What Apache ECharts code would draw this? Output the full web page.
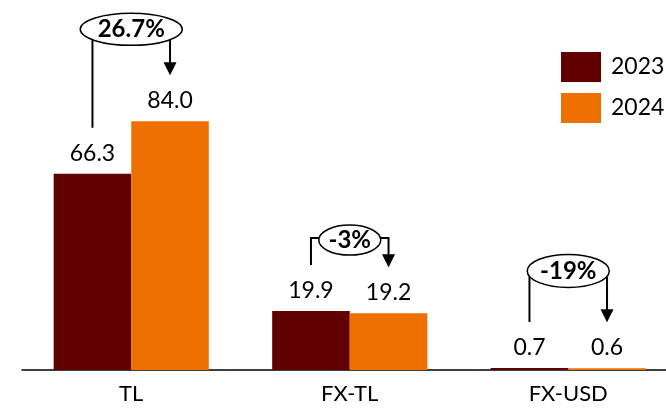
<!DOCTYPE html>
<html>
<head>
<meta charset="utf-8">
<script src="https://cdn.jsdelivr.net/npm/echarts@6/dist/echarts.min.js"></script>
<style>
  html, body { margin: 0; padding: 0; background: #fff; }
  #main { width: 666px; height: 411px; }
</style>
</head>
<body>
<div id="main"></div>
<script>
// chart data
const categories = ['TL', 'FX-TL', 'FX-USD'];
const seriesNames = ['2023', '2024'];
const values2023 = [66.3, 19.9, 0.7];
const values2024 = [84.0, 19.2, 0.6];
const changeLabels = ['26.7%', '-3%', '-19%'];

const colors = ['#600000', '#ee7000'];
const FONT = 'Lato, "Noto Sans", sans-serif';

const chart = echarts.init(document.getElementById('main'));

const barLabel = {
    show: true,
    position: 'top',
    distance: 9,
    fontFamily: FONT,
    fontSize: 23,
    color: '#000',
    formatter: p => p.value.toFixed(1)
};

chart.setOption({
    animation: false,
    color: colors,
    legend: {
        orient: 'vertical',
        left: 556,
        top: 47,
        itemWidth: 40,
        itemHeight: 30,
        itemGap: 11,
        icon: 'rect',
        data: seriesNames,
        textStyle: { fontFamily: FONT, fontSize: 23, color: '#000', padding: [0, 0, 0, 5] }
    },
    grid: { left: 22, width: 655.5, top: 0, bottom: 41, containLabel: false, outerBoundsMode: 'none' },
    xAxis: {
        type: 'category',
        data: categories,
        axisTick: { show: false },
        axisLine: { lineStyle: { color: '#000', width: 1.5 } },
        axisLabel: { fontFamily: FONT, fontSize: 22, color: '#000', margin: 13 }
    },
    yAxis: {
        type: 'value',
        min: 0,
        max: 125,
        show: false,
        splitLine: { show: false }
    },
    series: [
        { name: seriesNames[0], type: 'bar', data: values2023, barWidth: '35.5%', barGap: '0%', label: barLabel },
        { name: seriesNames[1], type: 'bar', data: values2024, barWidth: '35.5%', barGap: '0%', label: barLabel }
    ]
});

// change annotations: ellipse + connector + arrow, placed from the axes
// lift = how far the ellipse centre sits above the taller bar
const annoLayout = [
    { lift: 92, rx: 51, ry: 16 },
    { lift: 71, rx: 31, ry: 15 },
    { lift: 97, rx: 41, ry: 16.5 }
];

function buildAnnotations() {
    const c0 = chart.convertToPixel({ xAxisIndex: 0 }, 0);
    const c1 = chart.convertToPixel({ xAxisIndex: 0 }, 1);
    const bw = (c1 - c0) * 0.355;
    const els = [];
    const line = { stroke: '#000', lineWidth: 2 };

    categories.forEach((cat, i) => {
        const cx = chart.convertToPixel({ xAxisIndex: 0 }, i);
        const xL = cx - bw / 2;
        const xR = cx + bw / 2;
        const yTopL = chart.convertToPixel({ yAxisIndex: 0 }, values2023[i]);
        const yTopR = chart.convertToPixel({ yAxisIndex: 0 }, values2024[i]);
        const lay = annoLayout[i];
        const cy = Math.min(yTopL, yTopR) - lay.lift;
        const endL = yTopL - 46;
        const endR = yTopR - 46;

        const dx = bw / 2;
        if (dx < lay.rx) {
            const dy = lay.ry * Math.sqrt(1 - (dx / lay.rx) ** 2);
            els.push({ type: 'polyline', shape: { points: [[xL, cy + dy], [xL, endL]] }, style: line });
            els.push({ type: 'polyline', shape: { points: [[xR, cy + dy], [xR, endR - 12]] }, style: line });
        } else {
            const hy = cy - 2;
            els.push({ type: 'polyline', shape: { points: [[xL, endL], [xL, hy], [cx - lay.rx, hy]] }, style: line });
            els.push({ type: 'polyline', shape: { points: [[cx + lay.rx, hy], [xR, hy], [xR, endR - 12]] }, style: line });
        }
        // arrow head
        els.push({
            type: 'polygon',
            shape: { points: [[xR - 6.5, endR - 13], [xR + 6.5, endR - 13], [xR, endR]] },
            style: { fill: '#000' }
        });
        els.push({
            type: 'ellipse',
            shape: { cx: cx, cy: cy, rx: lay.rx, ry: lay.ry },
            style: { fill: '#fff', stroke: '#000', lineWidth: 1.5 },
            z: 10
        });
        els.push({
            type: 'text',
            x: cx,
            y: cy,
            style: {
                text: changeLabels[i],
                font: 'bold 24px ' + FONT,
                fill: '#000',
                align: 'center',
                verticalAlign: 'middle'
            },
            z: 11
        });
    });
    return els;
}

chart.setOption({ graphic: { elements: buildAnnotations() } });
</script>
</body>
</html>
